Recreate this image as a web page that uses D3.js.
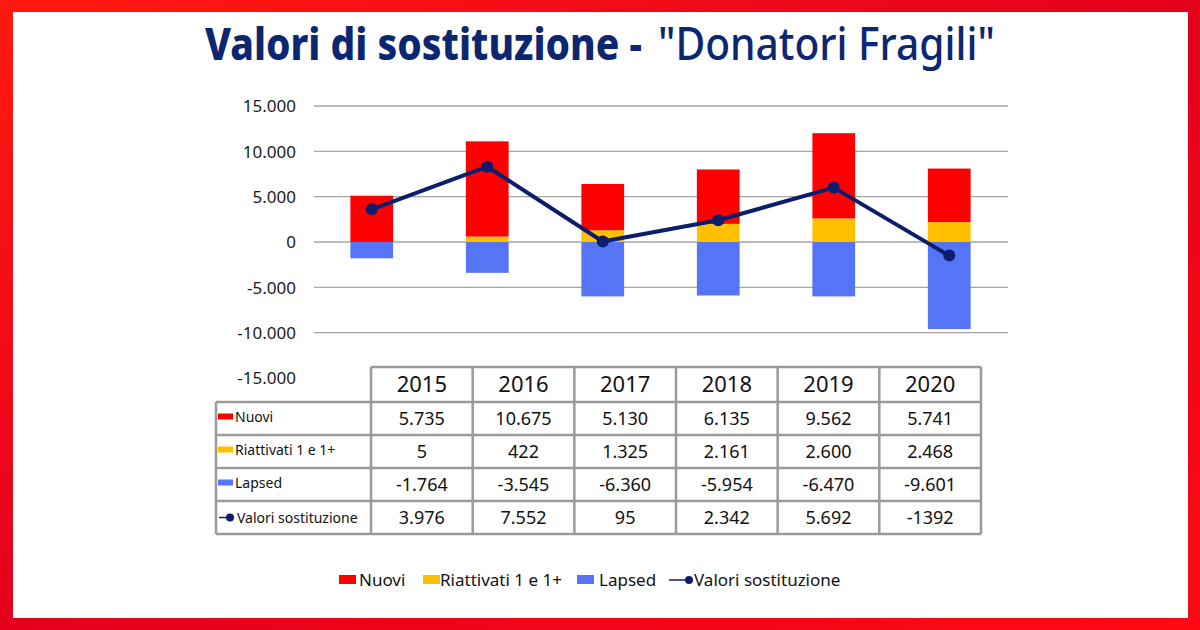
<!DOCTYPE html>
<html><head><meta charset="utf-8">
<script src="https://cdn.jsdelivr.net/npm/d3@7"></script>
<style>html,body{margin:0;padding:0;background:#fff}svg{display:block}</style>
</head><body>
<svg id="c" width="1200" height="630"></svg>
<script>
// ---- data ----
const years = ["2015","2016","2017","2018","2019","2020"];
// values as plotted in the bars/line
const nuovi = [5100, 10500, 5100, 6000, 9400, 5900];
const riattivati = [5, 600, 1300, 2000, 2600, 2200];
const lapsed = [-1800, -3400, -6000, -5900, -6000, -9600];
const valori = [3600, 8300, 50, 2400, 6000, -1500];
// values as printed in the data table
const tNuovi = ["5.735","10.675","5.130","6.135","9.562","5.741"];
const tRiattivati = ["5","422","1.325","2.161","2.600","2.468"];
const tLapsed = ["-1.764","-3.545","-6.360","-5.954","-6.470","-9.601"];
const tValori = ["3.976","7.552","95","2.342","5.692","-1392"];
const yTicks = [15000, 10000, 5000, 0, -5000, -10000, -15000];
const seriesNames = ["Nuovi","Riattivati 1 e 1+","Lapsed","Valori sostituzione"];

const C = {red:"#ff0000", yellow:"#ffc000", blue:"#5674f6", navy:"#0b1d6b", title:"#0c2672", grid:"#a6a6a6", tb:"#9a9a9a"};
const svg = d3.select("#c");

// frame
const defs = svg.append("defs");
const g1 = defs.append("linearGradient").attr("id","fr").attr("x1","0").attr("y1","0").attr("x2","1").attr("y2","1");
g1.append("stop").attr("offset","0").attr("stop-color","#ff1a10");
g1.append("stop").attr("offset","0.5").attr("stop-color","#e4001c");
g1.append("stop").attr("offset","1").attr("stop-color","#ff0a14");
svg.append("rect").attr("width",1200).attr("height",630).attr("fill","url(#fr)");
svg.append("rect").attr("x",13).attr("y",12).attr("width",1175).attr("height",606).attr("fill","#fff");

// title (two parts, horizontally condensed via transform)
function condensedText(str, x0, width, weight) {
  const t = svg.append("text").attr("x",0).attr("y",0)
    .attr("font-family","'Noto Sans', sans-serif").attr("font-size",45).attr("font-weight",weight)
    .attr("fill",C.title).text(str);
  const w = t.node().getComputedTextLength();
  t.attr("transform",`translate(${x0},60) scale(${width / w},1)`);
}
condensedText("Valori di sostituzione -", 205, 437, "800");
condensedText('"Donatori Fragili"', 658, 337, "500");

// scales
const x = d3.scaleBand().domain(years).range([314, 1007]).paddingInner(0.63).paddingOuter(0.315);
const y = d3.scaleLinear().domain([-15000, 15000]).range([378, 106]);

// gridlines (up to -10000)
svg.append("g").selectAll("line").data(yTicks.filter(t => t > -15000)).join("line")
  .attr("x1",314).attr("x2",1008).attr("y1",d=>y(d)).attr("y2",d=>y(d))
  .attr("stroke",C.grid).attr("stroke-width",1.3);

// y axis labels
const yAxis = d3.axisLeft(y).tickValues(yTicks).tickSize(0).tickPadding(0)
  .tickFormat(d => d3.format(",")(d).replace(/,/g,".").replace("−","-"));
const ya = svg.append("g").attr("transform","translate(296,0)").call(yAxis);
ya.select(".domain").remove();
ya.selectAll("text").attr("font-family","'Noto Sans', sans-serif").attr("font-size",17).attr("fill","#1a1a1a").attr("dy","0.34em");

// stacked bars
const bw = x.bandwidth();
const barG = svg.append("g");
years.forEach((yr,i) => {
  barG.append("rect").attr("x",x(yr)).attr("width",bw).attr("y",y(0)).attr("height",y(lapsed[i])-y(0)).attr("fill",C.blue);
  barG.append("rect").attr("x",x(yr)).attr("width",bw).attr("y",y(riattivati[i])).attr("height",y(0)-y(riattivati[i])).attr("fill",C.yellow);
  barG.append("rect").attr("x",x(yr)).attr("width",bw).attr("y",y(riattivati[i]+nuovi[i])).attr("height",y(riattivati[i])-y(riattivati[i]+nuovi[i])).attr("fill",C.red);
});

// line
const line = d3.line().x((d,i)=>x(years[i])+bw/2).y(d=>y(d));
svg.append("path").datum(valori).attr("d",line).attr("fill","none").attr("stroke",C.navy).attr("stroke-width",4).attr("stroke-linejoin","round");
svg.append("g").selectAll("circle").data(valori).join("circle")
  .attr("cx",(d,i)=>x(years[i])+bw/2).attr("cy",d=>y(d)).attr("r",6).attr("fill",C.navy);

// table
const colX = d3.scaleBand().domain(years).range([371, 981]);
const rowY = [367, 402, 435, 468, 501, 534];
const tG = svg.append("g");
const tf = "'Noto Sans', sans-serif";
const rows = [
  {name:seriesNames[0], vals:tNuovi, key:"rect", color:C.red},
  {name:seriesNames[1], vals:tRiattivati, key:"rect", color:C.yellow},
  {name:seriesNames[2], vals:tLapsed, key:"rect", color:C.blue},
  {name:seriesNames[3], vals:tValori, key:"line", color:C.navy}
];
// header
years.forEach(yr => {
  tG.append("text").attr("x",colX(yr)+colX.bandwidth()/2).attr("y",(rowY[0]+rowY[1])/2).attr("dy","0.36em")
    .attr("text-anchor","middle").attr("font-family",tf).attr("font-size",22).attr("fill","#111").text(yr);
});
rows.forEach((r,ri) => {
  const cy = (rowY[ri+1]+rowY[ri+2])/2;
  if (r.key==="rect") {
    tG.append("rect").attr("x",218).attr("y",cy-5).attr("width",15).attr("height",6).attr("fill",r.color);
    tG.append("text").attr("x",235).attr("y",cy-2).attr("dy","0.36em").attr("font-family",tf).attr("font-size",14).attr("fill","#111").text(r.name);
  } else {
    tG.append("line").attr("x1",219).attr("x2",229).attr("y1",cy).attr("y2",cy).attr("stroke",r.color).attr("stroke-width",1.5);
    tG.append("circle").attr("cx",230).attr("cy",cy).attr("r",4).attr("fill",r.color);
    tG.append("text").attr("x",237).attr("y",cy).attr("dy","0.36em").attr("font-family",tf).attr("font-size",14).attr("fill","#111").text(r.name);
  }
  r.vals.forEach((v,ci) => {
    tG.append("text").attr("x",colX(years[ci])+colX.bandwidth()/2).attr("y",cy).attr("dy","0.36em")
      .attr("text-anchor","middle").attr("font-family",tf).attr("font-size",18).attr("fill","#111").text(v);
  });
});
// table borders
function ln(x1,y1,x2,y2){ tG.append("line").attr("x1",x1).attr("y1",y1).attr("x2",x2).attr("y2",y2).attr("stroke",C.tb).attr("stroke-width",2.5); }
ln(371, rowY[0], 981, rowY[0]);
for (let k=1;k<rowY.length;k++) ln(216, rowY[k], 981, rowY[k]);
ln(216, rowY[1], 216, rowY[5]);
ln(371, rowY[0], 371, rowY[5]);
years.forEach(yr => ln(colX(yr)+colX.bandwidth(), rowY[0], colX(yr)+colX.bandwidth(), rowY[5]));

// legend
const lg = svg.append("g");
const ly = 580;
const lf = "'Noto Sans', sans-serif";
const legItems = [
  {name:seriesNames[0], color:C.red, x:339, tx:359},
  {name:seriesNames[1], color:C.yellow, x:423, tx:440},
  {name:seriesNames[2], color:C.blue, x:577, tx:599},
];
legItems.forEach(it => {
  lg.append("rect").attr("x",it.x).attr("y",ly-5).attr("width",17).attr("height",9).attr("fill",it.color);
  lg.append("text").attr("x",it.tx).attr("y",ly).attr("dy","0.35em").attr("font-family",lf).attr("font-size",17).attr("fill","#111").text(it.name);
});
lg.append("line").attr("x1",669).attr("x2",688).attr("y1",ly).attr("y2",ly).attr("stroke",C.navy).attr("stroke-width",1.5);
lg.append("circle").attr("cx",689).attr("cy",ly).attr("r",4).attr("fill",C.navy);
lg.append("text").attr("x",694).attr("y",ly).attr("dy","0.35em").attr("font-family",lf).attr("font-size",17).attr("fill","#111").text(seriesNames[3]);
</script>
</body></html>
